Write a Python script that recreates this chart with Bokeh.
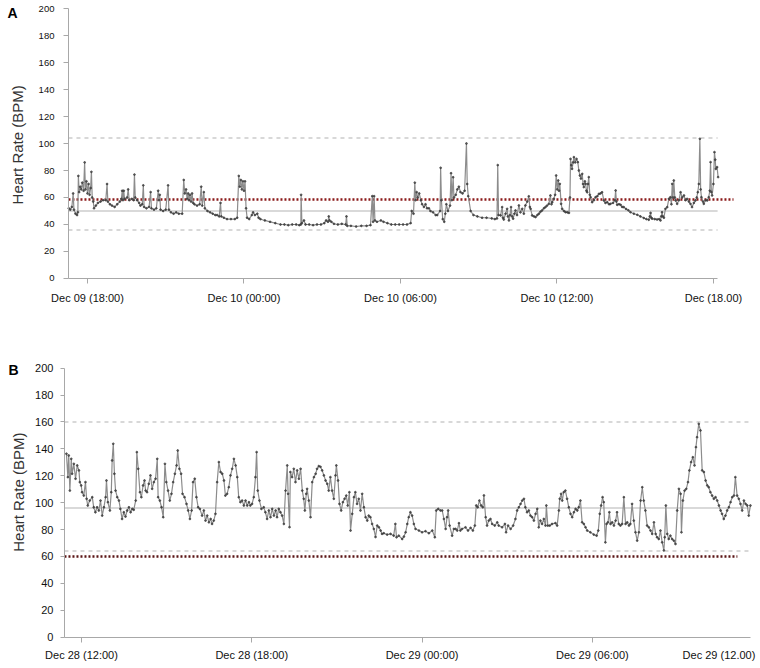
import math
from bokeh.plotting import figure
from bokeh.layouts import column
from bokeh.models import FixedTicker, Label, Range1d
from bokeh.embed import file_html
from bokeh.resources import INLINE

# ---------------- Panel A data (hours since Dec 09 00:00) ----------------
a_time = [17.28, 17.34, 17.40, 17.45, 17.48, 17.54, 17.60, 17.63, 17.65, 17.68, 17.72, 17.76, 17.80, 17.85, 17.89,
          17.92, 17.96, 18.00, 18.04, 18.08, 18.12, 18.15, 18.18, 18.22, 18.25, 18.32, 18.40, 18.50, 18.60, 18.70,
          18.75, 18.78, 18.86, 18.94, 19.04, 19.14, 19.24, 19.30, 19.33, 19.36, 19.39, 19.42, 19.52, 19.56, 19.60,
          19.70, 19.77, 19.80, 19.83, 19.90, 19.98, 20.03, 20.10, 20.14, 20.17, 20.26, 20.36, 20.42, 20.45, 20.55,
          20.64, 20.71, 20.74, 20.77, 20.80, 20.90, 21.00, 21.09, 21.12, 21.20, 21.30, 21.40, 21.50, 21.63, 21.69,
          21.73, 21.78, 21.82, 21.86, 21.89, 21.93, 21.97, 22.01, 22.05, 22.10, 22.20, 22.30, 22.36, 22.40, 22.46,
          22.50, 22.60, 22.70, 22.80, 22.90, 22.97, 23.05, 23.10, 23.13, 23.23, 23.35, 23.50, 23.65, 23.74, 23.80,
          23.84, 23.88, 23.92, 23.96, 24.00, 24.04, 24.08, 24.12, 24.20, 24.30, 24.35, 24.42, 24.51, 24.56, 24.63,
          24.80, 25.00, 25.20, 25.40, 25.55, 25.70, 25.85, 26.00, 26.12, 26.18, 26.19, 26.22, 26.30, 26.36, 26.50,
          26.65, 26.80, 26.95, 27.08, 27.15, 27.22, 27.25, 27.28, 27.35, 27.45, 27.60, 27.75, 27.90, 27.93, 27.96,
          28.10, 28.30, 28.50, 28.70, 28.85, 28.92, 28.95, 28.99, 29.02, 29.10, 29.25, 29.35, 29.50, 29.65, 29.80,
          29.95, 30.10, 30.25, 30.39, 30.43, 30.50, 30.55, 30.58, 30.62, 30.66, 30.72, 30.78, 30.83, 30.90, 30.96,
          31.02, 31.09, 31.15, 31.25, 31.35, 31.41, 31.52, 31.54, 31.57, 31.62, 31.68, 31.72, 31.76, 31.82, 31.90,
          31.94, 31.97, 32.02, 32.05, 32.12, 32.18, 32.24, 32.30, 32.38, 32.46, 32.53, 32.56, 32.60, 32.69, 32.80,
          32.95, 33.13, 33.30, 33.50, 33.62, 33.70, 33.73, 33.76, 33.84, 33.90, 33.93, 33.96, 34.03, 34.09, 34.12,
          34.16, 34.20, 34.24, 34.28, 34.32, 34.37, 34.41, 34.47, 34.54, 34.60, 34.67, 34.73, 34.79, 34.86, 34.92,
          34.96, 34.99, 35.05, 35.12, 35.18, 35.25, 35.31, 35.37, 35.43, 35.50, 35.56, 35.62, 35.69, 35.75, 35.79,
          35.82, 35.88, 35.93, 35.97, 36.01, 36.05, 36.08, 36.11, 36.16, 36.20, 36.27, 36.33, 36.40, 36.46, 36.50,
          36.52, 36.55, 36.58, 36.62, 36.65, 36.70, 36.75, 36.80, 36.84, 36.88, 36.92, 36.97, 37.00, 37.03, 37.07,
          37.10, 37.13, 37.16, 37.19, 37.22, 37.26, 37.29, 37.35, 37.42, 37.48, 37.55, 37.61, 37.67, 37.73, 37.80,
          37.86, 37.93, 38.00, 38.05, 38.15, 38.22, 38.25, 38.28, 38.31, 38.38, 38.44, 38.50, 38.56, 38.65, 38.74,
          38.82, 38.95, 39.08, 39.20, 39.33, 39.43, 39.52, 39.56, 39.59, 39.62, 39.65, 39.75, 39.84, 39.92, 39.97,
          40.00, 40.03, 40.06, 40.10, 40.16, 40.23, 40.29, 40.35, 40.39, 40.42, 40.45, 40.48, 40.52, 40.55, 40.61,
          40.68, 40.74, 40.80, 40.87, 40.93, 40.99, 41.06, 41.12, 41.18, 41.25, 41.31, 41.36, 41.40, 41.44, 41.48,
          41.51, 41.54, 41.60, 41.63, 41.70, 41.76, 41.82, 41.86, 41.89, 41.92, 41.95, 42.00, 42.04, 42.07, 42.09,
          42.14, 42.18]
a_bpm = [52, 51, 53, 63, 51, 48, 47, 49, 76, 64, 68, 66, 71, 65, 86,
         66, 72, 63, 70, 62, 67, 79, 60, 57, 52, 54, 56, 57, 58, 58,
         70, 57, 55, 54, 53, 55, 57, 59, 65, 58, 65, 59, 60, 66, 58,
         59, 58, 77, 60, 58, 56, 54, 55, 69, 53, 52, 53, 64, 52, 51,
         52, 65, 58, 62, 51, 50, 51, 69, 51, 49, 48, 49, 48, 48, 73,
         63, 66, 59, 63, 58, 62, 57, 63, 56, 55, 54, 55, 68, 54, 64,
         52, 50, 49, 48, 47, 47, 46, 56, 46, 45, 44, 44, 44, 45, 76,
         68, 73, 66, 72, 65, 72, 52, 45, 44, 47, 49, 47, 48, 45, 44,
         43, 42, 41, 40, 40, 39.5, 40, 40, 39.5, 40, 62, 41, 43, 40, 40,
         39.5, 40, 40, 41, 43, 42, 46, 43, 42, 40.5, 40, 40.5, 40, 46, 39,
         39, 38.5, 39, 39, 39.5, 61, 42, 61, 43, 42, 43, 42, 41, 40, 40,
         40, 40, 40, 41, 50, 48, 71, 58, 64, 60, 63, 58, 55, 53, 55,
         52, 52, 50, 49, 47, 47, 50, 82, 58, 44, 42, 48, 55, 50, 54,
         78, 58, 75, 60, 62, 66, 68, 64, 63, 65, 100, 70, 61, 50, 47,
         46, 45, 45, 44.5, 44, 44.5, 84, 47, 46.7, 52.9, 45, 43.7, 48, 51.6, 46,
         43, 47, 52.9, 46, 44.3, 48, 50.4, 47, 54.1, 49, 51.6, 48, 54.1, 57, 60.9,
         53, 51.6, 46.7, 46, 45.5, 47, 48, 49.5, 50.4, 52, 52.9, 54, 55.3, 61.5, 55,
         56.5, 59, 62, 76.3, 66, 72.6, 65, 70.1, 55.3, 51.6, 50, 49.1, 49, 48.6, 60,
         88.6, 84, 81.2, 86, 89.9, 86, 88.6, 86.2, 80, 76.3, 74, 77.5, 70, 67.7, 72,
         70.1, 65, 63.9, 70, 75.1, 62, 60.2, 56.5, 58, 60.2, 61, 62.7, 63, 63.9, 57.8,
         56, 56.5, 55, 55.3, 56, 58, 65.2, 57, 54.6, 55, 54.6, 53, 52.9, 51.5, 50.5,
         49.1, 48, 47.2, 46, 44.8, 44, 43.5, 46, 48.6, 45, 44.3, 44, 43.7, 44, 43,
         46, 49.1, 46, 45, 51.6, 52.9, 59, 60.2, 55, 70.1, 60, 72.6, 60, 57.8, 55.3,
         58, 63.9, 60, 61.5, 58, 59, 57, 55.3, 52.9, 56, 57.8, 60, 63.9, 70, 103.5,
         66, 60.2, 57, 55.3, 58, 57.8, 60.2, 65, 86.2, 64, 61.5, 70, 93.6, 88, 81.2,
         82.5, 75.1]
a_ticks = [18, 24, 30, 36, 42]
a_tick_labels = ["Dec 09 (18:00)", "Dec 10 (00:00)", "Dec 10 (06:00)", "Dec 10 (12:00)", "Dec (18.00)"]
a_upper, a_lower, a_mid, a_ref = 104, 36, 50, 58.5
a_axis_start, a_axis_end, a_ref_end = 17.27, 42.16, 42.77

# ---------------- Panel B data (hours since Dec 28 00:00) ----------------
b_time = [11.47, 11.52, 11.55, 11.59, 11.64, 11.67, 11.73, 11.79, 11.85, 11.91, 11.94, 11.99, 12.02, 12.08, 12.14,
          12.18, 12.22, 12.29, 12.38, 12.43, 12.49, 12.55, 12.61, 12.67, 12.73, 12.79, 12.85, 12.88, 12.93, 13.00,
          13.05, 13.08, 13.12, 13.16, 13.20, 13.26, 13.32, 13.37, 13.43, 13.49, 13.55, 13.61, 13.67, 13.73, 13.79,
          13.84, 13.91, 13.95, 14.00, 14.06, 14.11, 14.17, 14.22, 14.26, 14.31, 14.37, 14.43, 14.49, 14.55, 14.61,
          14.67, 14.70, 14.76, 14.82, 14.88, 14.94, 14.99, 15.05, 15.11, 15.17, 15.23, 15.29, 15.35, 15.39, 15.45,
          15.51, 15.56, 15.63, 15.70, 15.76, 15.82, 15.88, 15.93, 15.99, 16.05, 16.11, 16.17, 16.25, 16.31, 16.37,
          16.43, 16.49, 16.55, 16.60, 16.66, 16.72, 16.78, 16.84, 16.90, 16.96, 17.02, 17.07, 17.13, 17.19, 17.25,
          17.31, 17.37, 17.43, 17.49, 17.54, 17.60, 17.66, 17.72, 17.78, 17.84, 17.90, 17.95, 18.01, 18.07, 18.13,
          18.17, 18.21, 18.27, 18.34, 18.42, 18.48, 18.54, 18.60, 18.66, 18.72, 18.78, 18.84, 18.89, 18.95, 19.01,
          19.07, 19.13, 19.19, 19.25, 19.28, 19.33, 19.36, 19.42, 19.48, 19.54, 19.60, 19.66, 19.72, 19.78, 19.83,
          19.87, 19.92, 19.95, 20.01, 20.07, 20.13, 20.19, 20.25, 20.30, 20.36, 20.42, 20.48, 20.54, 20.60, 20.66,
          20.71, 20.77, 20.83, 20.89, 20.95, 20.98, 21.04, 21.09, 21.15, 21.21, 21.27, 21.33, 21.38, 21.44, 21.48,
          21.54, 21.60, 21.65, 21.71, 21.77, 21.83, 21.89, 21.95, 22.01, 22.07, 22.12, 22.18, 22.24, 22.30, 22.36,
          22.42, 22.48, 22.54, 22.59, 22.65, 22.77, 22.89, 23.00, 23.06, 23.10, 23.18, 23.30, 23.36, 23.42, 23.48,
          23.53, 23.59, 23.65, 23.71, 23.77, 23.89, 24.00, 24.12, 24.24, 24.36, 24.45, 24.50, 24.57, 24.65, 24.71,
          24.77, 24.83, 24.88, 24.92, 24.97, 25.06, 25.12, 25.18, 25.24, 25.30, 25.35, 25.41, 25.53, 25.62, 25.71,
          25.79, 25.86, 25.91, 25.96, 26.02, 26.08, 26.14, 26.18, 26.24, 26.29, 26.35, 26.41, 26.47, 26.56, 26.65,
          26.70, 26.82, 26.92, 26.96, 27.03, 27.12, 27.21, 27.29, 27.35, 27.41, 27.47, 27.53, 27.59, 27.64, 27.70,
          27.76, 27.82, 27.88, 27.94, 28.00, 28.06, 28.11, 28.17, 28.23, 28.29, 28.35, 28.38, 28.43, 28.50, 28.58,
          28.70, 28.76, 28.82, 28.85, 28.90, 28.94, 28.99, 29.05, 29.11, 29.17, 29.23, 29.29, 29.35, 29.41, 29.47,
          29.52, 29.58, 29.64, 29.70, 29.76, 29.82, 29.93, 30.05, 30.15, 30.21, 30.26, 30.31, 30.36, 30.40, 30.46,
          30.50, 30.55, 30.60, 30.64, 30.70, 30.76, 30.82, 30.87, 30.93, 30.99, 31.05, 31.11, 31.17, 31.23, 31.29,
          31.34, 31.40, 31.46, 31.52, 31.58, 31.64, 31.70, 31.76, 31.81, 31.87, 31.93, 31.99, 32.05, 32.11, 32.17,
          32.23, 32.28, 32.34, 32.40, 32.46, 32.52, 32.55, 32.59, 32.64, 32.69, 32.75, 32.81, 32.87, 32.93, 32.99,
          33.05, 33.11, 33.14, 33.19, 33.25, 33.31, 33.37, 33.42, 33.48, 33.54, 33.60, 33.65, 33.69, 33.75, 33.81,
          33.87, 33.93, 33.99, 34.05, 34.10, 34.16, 34.22, 34.28, 34.34, 34.40, 34.46, 34.52, 34.57, 34.63, 34.69,
          34.75, 34.81, 34.87, 34.93, 34.99, 35.04, 35.10, 35.16, 35.22, 35.28, 35.34, 35.40, 35.46, 35.51, 35.57]
b_bpm = [136.4, 119.0, 135.1, 109.0, 132.6, 121.5, 128.9, 117.8, 127.7, 124.0, 115.3, 112.8, 107.8, 105.3, 115.3,
         102.9, 97.9, 101.6, 104.1, 96.6, 92.9, 96.6, 94.2, 101.6, 90.4, 96.6, 104.1, 116.5, 100.4, 94.2,
         107.8, 131.4, 143.8, 121.5, 109.0, 104.1, 101.6, 95.4, 87.9, 92.9, 89.7, 94.2, 96.6, 92.9, 95.4,
         94.7, 101.6, 137.6, 125.2, 107.8, 104.1, 112.8, 116.5, 109.0, 107.8, 114.0, 120.3, 110.3, 115.3, 117.8,
         132.6, 104.1, 101.6, 96.6, 89.2, 128.9, 115.3, 109.0, 101.6, 106.6, 115.3, 121.5, 127.7, 138.8, 125.2,
         121.5, 106.6, 104.1, 99.1, 94.2, 87.9, 94.2, 115.3, 117.8, 104.1, 96.6, 95.4, 90.4, 94.2, 86.7,
         90.4, 85.4, 87.9, 84.2, 86.7, 91.7, 115.3, 130.2, 122.8, 121.5, 116.5, 105.3, 106.6, 111.5, 120.3,
         125.2, 132.6, 127.7, 119.0, 104.1, 100.4, 101.6, 97.9, 101.6, 97.9, 100.4, 97.9, 99.1, 104.1, 119.0,
         137.6, 109.0, 101.6, 95.4, 96.6, 92.9, 87.9, 94.2, 89.2, 95.4, 90.4, 94.2, 89.2, 95.4, 92.9,
         90.4, 84.2, 109.0, 127.7, 106.6, 81.8, 122.8, 119.0, 125.2, 115.3, 124.0, 117.8, 125.2, 109.0, 102.9,
         94.2, 106.6, 110.3, 101.6, 89.2, 115.3, 119.0, 121.5, 125.2, 127.2, 126.7, 124.0, 120.3, 116.5, 114.0,
         109.0, 119.0, 109.0, 102.9, 120.3, 127.7, 116.5, 99.1, 94.2, 100.4, 102.9, 105.3, 97.9, 107.8, 79.3,
         91.7, 104.1, 107.8, 99.1, 102.9, 94.2, 106.6, 96.6, 89.2, 86.7, 90.4, 89.2, 84.2, 80.5, 74.5,
         83.0, 81.7, 79.3, 76.8, 77.3, 76.3, 76.8, 75.5, 84.2, 74.3, 75.5, 73.0, 74.8, 78.0, 84.2,
         89.2, 92.9, 90.4, 84.2, 80.5, 79.3, 78.0, 78.8, 77.3, 79.3, 74.3, 94.2, 95.4, 94.2, 94.2,
         87.9, 80.5, 89.2, 94.2, 83.0, 75.5, 80.5, 80.5, 79.3, 84.8, 79.3, 80.5, 81.7, 79.3, 81.3,
         79.3, 83.0, 97.9, 96.6, 101.6, 97.9, 96.6, 105.4, 89.2, 83.0, 86.7, 87.9, 84.2, 83.0, 85.4,
         83.0, 81.7, 84.2, 78.0, 83.0, 80.5, 83.0, 87.9, 94.2, 96.6, 99.1, 101.6, 102.9, 96.6, 92.9,
         94.2, 90.4, 89.2, 86.7, 91.7, 95.4, 81.7, 86.7, 84.2, 87.9, 83.0, 97.9, 83.0, 83.0, 84.2,
         84.8, 83.0, 94.2, 102.9, 106.6, 101.6, 107.8, 109.0, 102.9, 96.6, 91.7, 89.2, 92.9, 95.4, 94.2,
         96.6, 101.6, 85.4, 84.2, 81.7, 79.3, 78.0, 76.3, 75.5, 79.3, 91.7, 97.9, 104.1, 100.4, 70.5,
         84.2, 85.4, 92.9, 84.2, 85.4, 83.0, 86.7, 92.9, 84.2, 83.0, 84.2, 104.1, 84.2, 85.4, 83.0,
         84.2, 99.1, 86.7, 78.0, 71.8, 78.0, 101.6, 111.5, 101.6, 94.2, 83.0, 81.7, 79.3, 76.8, 85.4,
         76.8, 74.3, 73.0, 79.3, 70.5, 64.5, 74.3, 97.9, 76.8, 73.0, 75.5, 73.0, 71.8, 69.3, 94.2,
         110.3, 106.6, 78.0, 101.6, 109.0, 110.3, 115.3, 124.0, 130.2, 133.8, 127.7, 141.3, 148.7, 158.6, 153.7,
         124.0, 122.8, 116.5, 112.8, 111.5, 107.8, 105.3, 102.9, 104.1, 101.6, 97.9, 94.2, 91.7, 87.9, 90.4,
         94.2, 96.6, 100.4, 104.1, 105.3, 119.0, 105.3, 102.9, 99.1, 94.2, 101.6, 99.1, 97.9, 90.4, 97.9]
b_ticks = [12, 18, 24, 30]
b_tick_labels = ["Dec 28 (12:00)", "Dec 28 (18:00)", "Dec 29 (00:00)", "Dec 29 (06:00)"]
b_last_label = "Dec  29 (12.00)"
b_upper, b_lower, b_mid, b_ref = 160, 64, 96, 60
b_axis_start, b_axis_end, b_ref_end = 11.40, 35.57, 35.11

FONT = "Liberation Sans"
y_ticks = list(range(0, 201, 20))
Y_LABEL = "Heart Rate (BPM)"

# view windows (layout only): whole canvas is the plotting frame
A_VIEW_X, A_VIEW_Y = (14.664, 43.805), (-37.04, 205.93)
B_VIEW_X, B_VIEW_Y = (9.146, 35.925), (-21.78, 229.5)


def make_panel(times, bpm, ticks, tick_labels, view_x, view_y, height,
               axis_start, axis_end, upper, lower, mid, ref, ref_end, ref_color,
               ytick_size, ytick_out, ytick_standoff, xlab_standoff):
    p = figure(width=760, height=height,
               x_range=Range1d(*view_x), y_range=Range1d(*view_y),
               output_backend="svg", toolbar_location=None,
               min_border_left=0, min_border_right=0,
               min_border_top=0, min_border_bottom=0)
    p.title.visible = False
    p.outline_line_color = None
    p.grid.visible = False
    p.background_fill_color = "white"
    p.border_fill_color = "white"

    # reference lines
    p.line([axis_start, axis_end], [upper, upper], line_color="#cccccc", line_width=1.5, line_dash="4 4")
    p.line([axis_start, axis_end], [lower, lower], line_color="#cccccc", line_width=1.5, line_dash="4 4")
    p.line([axis_start, axis_end], [mid, mid], line_color="#d9d9d9", line_width=2)
    p.line([axis_start, ref_end], [ref, ref], line_color=ref_color, line_width=2.5, line_dash="2 2")

    # trace
    p.line(times, bpm, line_color="#8c8c8c", line_width=1.2)
    p.scatter(times, bpm, size=1.8, color="#3a3a3a", alpha=0.75)

    ax = p.xaxis[0]
    ax.fixed_location = 0
    ax.ticker = FixedTicker(ticks=ticks)
    ax.major_label_overrides = {t: l for t, l in zip(ticks, tick_labels)}
    ax.bounds = (axis_start, axis_end)
    ax.minor_tick_line_color = None
    ax.axis_line_color = "#a8a8a8"
    ax.major_tick_line_color = "#a8a8a8"
    ax.major_tick_out = 5
    ax.major_tick_in = 0
    ax.major_label_standoff = xlab_standoff
    ax.major_label_text_font = FONT
    ax.major_label_text_font_size = "11px"
    ax.major_label_text_color = "#111111"

    ay = p.yaxis[0]
    ay.fixed_location = axis_start
    ay.ticker = FixedTicker(ticks=y_ticks)
    ay.bounds = (0, 200)
    ay.minor_tick_line_color = None
    ay.axis_line_color = "#a8a8a8"
    ay.major_tick_line_color = "#a8a8a8"
    ay.major_tick_out = ytick_out
    ay.major_tick_in = 0
    ay.major_label_standoff = ytick_standoff
    ay.major_label_text_font = FONT
    ay.major_label_text_font_size = ytick_size
    ay.major_label_text_color = "#111111"
    return p


def add_text(p, x, y, text, size, style="normal", angle=0.0, align="left", baseline="alphabetic", color="#000000"):
    p.add_layout(Label(x=x, y=y, text=text, text_font=FONT, text_font_style=style,
                       text_font_size=size, text_color=color, angle=angle,
                       text_align=align, text_baseline=baseline))


pa = make_panel(a_time, a_bpm, a_ticks, a_tick_labels, A_VIEW_X, A_VIEW_Y, 328,
                a_axis_start, a_axis_end, a_upper, a_lower, a_mid, a_ref, a_ref_end, "#8b1a1a",
                "9.5px", 5, 9, 9)
add_text(pa, 14.933, 196.7, "A", "14px", style="bold")
add_text(pa, 15.335, 99.0, Y_LABEL, "15px", angle=math.pi / 2, align="center", baseline="middle", color="#333333")

pb = make_panel(b_time, b_bpm, b_ticks, b_tick_labels, B_VIEW_X, B_VIEW_Y, 338,
                b_axis_start, b_axis_end, b_upper, b_lower, b_mid, b_ref, b_ref_end, "#5a1414",
                "11px", 4, 7, 7)
add_text(pb, 9.428, 198.7, "B", "14px", style="bold")
add_text(pb, 9.763, 107.8, Y_LABEL, "15px", angle=math.pi / 2, align="center", baseline="middle", color="#333333")
add_text(pb, 34.516, -12.9, b_last_label, "11px", align="center", color="#111111")

layout = column(pa, pb, spacing=0)
open("out.html", "w").write(file_html(layout, INLINE))
